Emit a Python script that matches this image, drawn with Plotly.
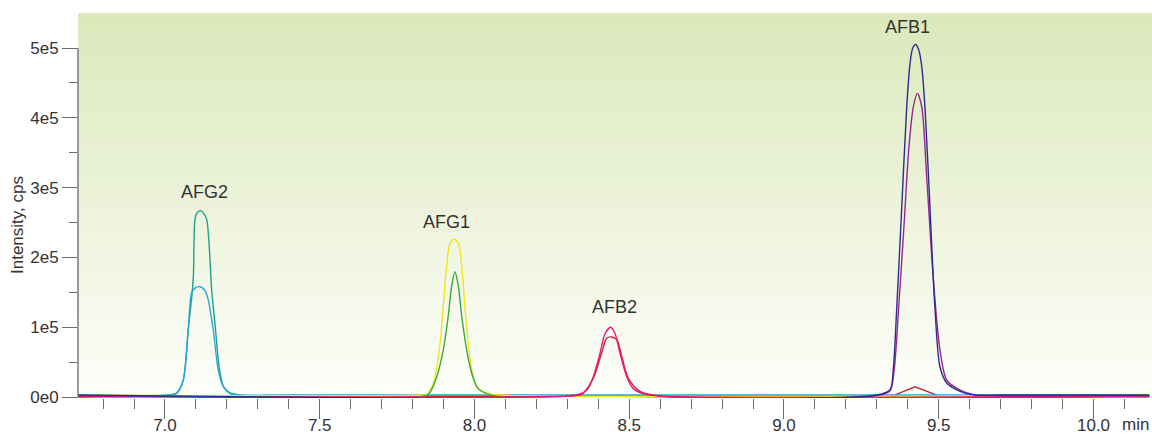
import numpy as np
import plotly.graph_objects as go

# ---------------- data (retention time in min, intensity in cps) ----------------
afg2_a_t = [6.719, 7.000, 7.038, 7.059, 7.075, 7.087, 7.092, 7.097, 7.104, 7.115, 7.125, 7.135,
            7.151, 7.163, 7.175, 7.189, 7.210, 7.242, 7.400, 10.180]
afg2_a_v = [2500, 2500, 6000, 24000, 96000, 145000, 175000, 255000, 264000, 267000, 263000, 254000,
            153000, 98000, 43000, 15000, 6000, 3000, 2500, 2500]

afg2_b_t = [6.719, 7.000, 7.038, 7.059, 7.075, 7.086, 7.097, 7.113, 7.129, 7.140, 7.156, 7.172,
            7.188, 7.210, 7.242, 7.400, 10.180]
afg2_b_v = [2500, 2500, 5000, 24000, 96000, 149000, 156000, 158000, 153000, 139000, 96000, 39000,
            15000, 5000, 2500, 2500, 2500]

afg1_a_t = [6.719, 7.800, 7.846, 7.867, 7.889, 7.899, 7.910, 7.921, 7.934, 7.948, 7.959, 7.969,
            7.980, 7.991, 8.007, 8.039, 8.100, 10.180]
afg1_a_v = [2500, 2500, 4000, 19600, 77000, 129000, 187000, 220000, 226000, 220000, 187000, 129000,
            77000, 39000, 15000, 5000, 2500, 2500]

afg1_b_t = [6.719, 7.800, 7.851, 7.878, 7.899, 7.915, 7.926, 7.937, 7.948, 7.959, 7.975, 7.991,
            8.012, 8.045, 8.100, 8.750]
afg1_b_v = [-1000, -1000, 4000, 29000, 67000, 115000, 158000, 179500, 158000, 115000, 67000, 34000,
            12000, 4000, -1000, -1000]

afb2_a_t = [6.719, 8.300, 8.341, 8.363, 8.384, 8.406, 8.422, 8.440, 8.454, 8.470, 8.492, 8.513,
            8.545, 8.600, 10.180]
afb2_a_v = [1500, 1500, 4300, 10000, 29000, 63000, 91000, 100000, 91000, 63000, 29000, 12000,
            5000, 1500, 1500]

afb2_b_t = [6.719, 8.300, 8.347, 8.384, 8.411, 8.427, 8.443, 8.460, 8.476, 8.497, 8.535, 8.600, 10.180]
afb2_b_v = [1200, 1200, 4000, 27000, 63000, 84000, 86000, 82000, 58000, 27000, 8000, 1200, 1200]

afb1_a_t = [6.719, 9.300, 9.3425, 9.353, 9.364, 9.380, 9.396, 9.407, 9.416, 9.4255, 9.435, 9.445,
            9.456, 9.472, 9.488, 9.504, 9.526, 9.569, 9.611, 9.700, 10.180]
afb1_a_v = [2900, 2900, 10000, 39000, 125000, 268000, 411000, 477000, 500000, 505000, 498000, 474000,
            411000, 268000, 125000, 43000, 20000, 8000, 3000, 2900, 2900]

afb1_b_t = [6.719, 9.300, 9.3425, 9.356, 9.370, 9.387, 9.404, 9.418, 9.431, 9.445, 9.461, 9.482,
            9.504, 9.526, 9.569, 9.617, 9.700, 10.180]
afb1_b_v = [2000, 2000, 9000, 39000, 125000, 240000, 360000, 416000, 435000, 416000, 316000, 172000,
            67000, 24000, 10000, 3000, 2000, 2000]

minor_red_t = [6.719, 9.348, 9.423, 9.504, 10.180]
minor_red_v = [1000, 1000, 14700, 1000, 1000]

minor_cyan_t = [9.348, 10.180]
minor_cyan_v = [1600, 1600]

minor_orange_t = [8.750, 10.180]
minor_orange_v = [-1000, -1000]

peak_names = ["AFG2", "AFG1", "AFB2", "AFB1"]

x_tick_vals = [7.0, 7.5, 8.0, 8.5, 9.0, 9.5, 10.0]
x_tick_text = ["7.0", "7.5", "8.0", "8.5", "9.0", "9.5", "10.0"]
y_tick_vals = [0, 100000, 200000, 300000, 400000, 500000]
y_tick_text = ["0e0", "1e5", "2e5", "3e5", "4e5", "5e5"]

# ---------------- figure ----------------
X_RANGE = [6.719, 10.189]
Y_RANGE = [-1433, 550143]
FONT = "Liberation Sans, Arial, Helvetica, sans-serif"
TXT = "#333333"
TICK = "#6b6b6b"

series = [
    (minor_cyan_t, minor_cyan_v, "#3cb4e2", "linear"),
    (minor_orange_t, minor_orange_v, "#d98a2a", "linear"),
    (minor_red_t, minor_red_v, "#d6232e", "linear"),
    (afg2_a_t, afg2_a_v, "#1f9f8e", "spline"),
    (afg2_b_t, afg2_b_v, "#2ba7dc", "spline"),
    (afg1_a_t, afg1_a_v, "#f2e41a", "spline"),
    (afg1_b_t, afg1_b_v, "#3aa63c", "spline"),
    (afb2_b_t, afb2_b_v, "#c42a3c", "spline"),
    (afb2_a_t, afb2_a_v, "#e8157c", "spline"),
    (afb1_b_t, afb1_b_v, "#9c2490", "spline"),
    (afb1_a_t, afb1_a_v, "#2a2f8f", "spline"),
]

fig = go.Figure()
for t, v, col, shp in series:
    line = dict(color=col, width=1.4, shape=shp)
    if shp == "spline":
        line["smoothing"] = 0.8
    fig.add_trace(go.Scatter(x=t, y=v, mode="lines", line=line,
                             hoverinfo="skip", showlegend=False))

# vertical gradient background (green at top -> white at bottom)
top_rgb = np.array([220, 232, 187])
bot_rgb = np.array([253, 254, 250])
n_strips = 70
for i in range(n_strips):
    f0, f1 = i / n_strips, (i + 1) / n_strips
    c = bot_rgb + (top_rgb - bot_rgb) * ((f0 + f1) / 2)
    fig.add_shape(type="rect", xref="paper", yref="paper", x0=0, x1=1,
                  y0=f0, y1=min(1, f1 + 0.003), line_width=0, layer="below",
                  fillcolor="rgb(%d,%d,%d)" % tuple(int(round(a)) for a in c))

# y axis line only from bottom up to 5e5
fig.add_shape(type="line", xref="paper", yref="y", x0=0, x1=0,
              y0=Y_RANGE[0], y1=y_tick_vals[-1], line=dict(color="#7a7a7a", width=1.5))

# peak labels placed above each group's apex
groups = [
    [(afg2_a_t, afg2_a_v), (afg2_b_t, afg2_b_v)],
    [(afg1_a_t, afg1_a_v), (afg1_b_t, afg1_b_v)],
    [(afb2_a_t, afb2_a_v), (afb2_b_t, afb2_b_v)],
    [(afb1_a_t, afb1_a_v), (afb1_b_t, afb1_b_v)],
]
label_xshift = [4, -8, 4, -8]
label_yshift = [19, 17, 20, 18]
for name, grp, xs, ys in zip(peak_names, groups, label_xshift, label_yshift):
    best = max(((t[int(np.argmax(v))], max(v)) for t, v in grp), key=lambda p: p[1])
    fig.add_annotation(x=best[0], y=best[1], text=name, showarrow=False,
                       xanchor="center", yanchor="middle", xshift=xs, yshift=ys,
                       font=dict(family=FONT, size=18, color=TXT))

fig.add_annotation(text="Intensity, cps", textangle=-90, showarrow=False,
                   xref="paper", yref="paper", x=(18 - 78) / 1074, y=(398 - 225) / 385,
                   xanchor="center", yanchor="middle",
                   font=dict(family=FONT, size=17, color=TXT))
fig.add_annotation(text="min", showarrow=False, xref="paper", yref="paper",
                   x=(1135 - 78) / 1074, y=0, yshift=-26, xanchor="center", yanchor="middle",
                   font=dict(family=FONT, size=17, color=TXT))

x_minor = [round(v, 1) for v in np.arange(6.8, 10.15, 0.1) if round(v, 1) not in x_tick_vals]
y_minor = [50000 + 100000 * k for k in range(5)]

fig.update_layout(
    width=1152, height=436,
    margin=dict(l=78, r=0, t=13, b=38, autoexpand=False),
    paper_bgcolor="white", plot_bgcolor="white",
    font=dict(family=FONT, size=17, color=TXT),
    showlegend=False,
)
fig.update_xaxes(range=X_RANGE, tickmode="array", tickvals=x_tick_vals, ticktext=x_tick_text,
                 ticks="outside", ticklen=20, tickwidth=1.2, tickcolor=TICK, automargin=False,
                 ticklabelstandoff=-8,
                 showgrid=False, zeroline=False, showline=False,
                 minor=dict(tickmode="array", tickvals=x_minor, ticks="outside", ticklen=10,
                            tickwidth=1.2, tickcolor=TICK, showgrid=False))
fig.update_yaxes(range=Y_RANGE, tickmode="array", tickvals=y_tick_vals, ticktext=y_tick_text,
                 ticks="outside", ticklen=15, tickwidth=1.2, tickcolor=TICK, automargin=False,
                 showgrid=False, zeroline=False, showline=False,
                 minor=dict(tickmode="array", tickvals=y_minor, ticks="outside", ticklen=8,
                            tickwidth=1.2, tickcolor=TICK, showgrid=False))

fig.write_html("out.html", config={"displayModeBar": False},
               post_script="document.body.style.margin='0';document.body.style.overflow='hidden';")
